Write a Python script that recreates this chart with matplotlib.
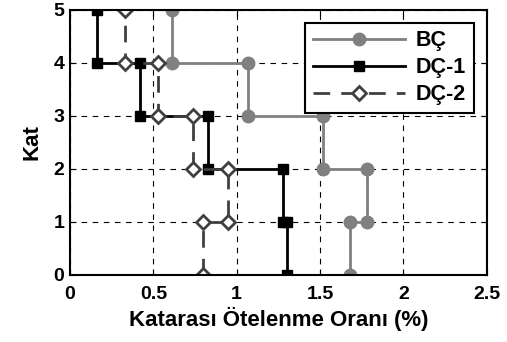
import matplotlib
matplotlib.use("Agg")
import matplotlib.pyplot as plt

plt.rcParams["font.family"] = ["Liberation Sans", "DejaVu Sans"]
plt.rcParams["font.weight"] = "bold"

# Kat ötelenme profilleri (step çizgisi noktaları)
kat = [0, 1, 1, 2, 2, 3, 3, 4, 4, 5]
bc = [1.68, 1.68, 1.78, 1.78, 1.52, 1.52, 1.07, 1.07, 0.61, 0.61]
dc1 = [1.30, 1.30, 1.28, 1.28, 0.83, 0.83, 0.42, 0.42, 0.16, 0.16]
dc2 = [0.80, 0.80, 0.95, 0.95, 0.74, 0.74, 0.53, 0.53, 0.33, 0.33]

fig = plt.figure(figsize=(5.07, 3.42), dpi=100)
ax = fig.add_axes([0.138, 0.196, 0.822, 0.775])

ax.plot(bc, kat, color="#808080", lw=2, marker="o", ms=9, label="BÇ")
ax.plot(dc1, kat, color="black", lw=2, marker="s", ms=7, label="DÇ-1")
ax.plot(dc2, kat, color="#404040", lw=2, ls=(0, (6, 4)), marker="D", ms=7,
        mfc="white", mec="#404040", mew=2, label="DÇ-2")

ax.set_xlim(0, 2.5)
ax.set_ylim(0, 5)
ax.set_xticks([0, 0.5, 1, 1.5, 2, 2.5])
ax.set_xticklabels(["0", "0.5", "1", "1.5", "2", "2.5"])
ax.set_yticks([0, 1, 2, 3, 4, 5])
ax.tick_params(direction="in", labelsize=14, length=4, top=True, right=True, pad=4)
ax.tick_params(axis="x", pad=8)
ax.grid(True, ls=(0, (5, 5)), color="black", lw=0.8)
for s in ax.spines.values():
    s.set_linewidth(1.5)

ax.set_xlabel("Katarası Ötelenme Oranı (%)", fontsize=16, fontweight="bold", labelpad=3)
ax.set_ylabel("Kat", fontsize=16, fontweight="bold", labelpad=8)

leg = ax.legend(loc="upper right", fontsize=15.5, fancybox=False, framealpha=1,
                edgecolor="black", handlelength=4.3, borderpad=0.35,
                labelspacing=0.28, handletextpad=0.5, borderaxespad=0,
                bbox_to_anchor=(0.969, 0.951))
leg.get_frame().set_linewidth(1.5)

plt.savefig("out.png", dpi=100)
